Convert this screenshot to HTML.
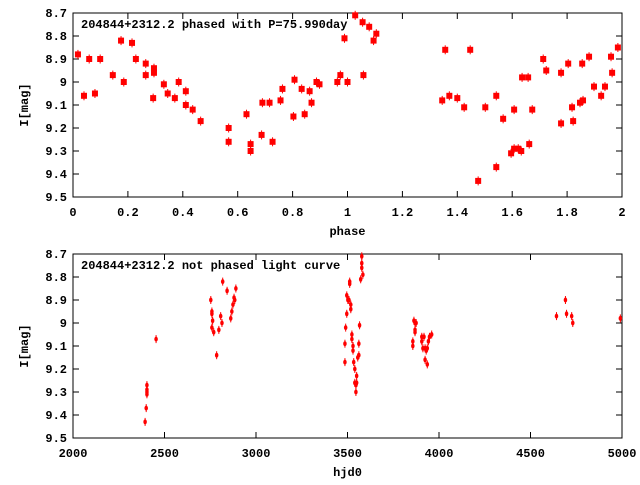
<!DOCTYPE html>
<html><head><meta charset="utf-8"><style>
body{margin:0;background:#fff}
svg text{font-family:"Liberation Mono","DejaVu Sans Mono",monospace;font-weight:bold;font-size:12px;fill:#000}
</style></head><body>
<svg id="c" width="640" height="480" xmlns="http://www.w3.org/2000/svg"></svg>
<script>
const phaseX=[0.018,0.04,0.059,0.08,0.099,0.145,0.175,0.185,0.215,0.229,0.265,0.265,0.295,0.295,0.292,0.331,0.345,0.371,0.385,0.411,0.411,0.436,0.465,0.567,0.567,0.632,0.647,0.647,0.687,0.69,0.716,0.727,0.756,0.763,0.803,0.807,0.833,0.844,0.862,0.869,0.887,0.898,0.963,0.974,0.989,1.0,1.028,1.055,1.058,1.079,1.095,1.105,1.345,1.356,1.371,1.4,1.425,1.447,1.476,1.502,1.542,1.542,1.567,1.596,1.607,1.607,1.622,1.633,1.636,1.658,1.662,1.673,1.713,1.724,1.778,1.778,1.804,1.818,1.822,1.847,1.858,1.855,1.88,1.898,1.924,1.938,1.96,1.964,1.985];
const phaseMag=[8.88,9.06,8.90,9.05,8.90,8.97,8.82,9.00,8.83,8.90,8.92,8.97,8.94,8.96,9.07,9.01,9.05,9.07,9.00,9.04,9.10,9.12,9.17,9.20,9.26,9.14,9.27,9.30,9.23,9.09,9.09,9.26,9.08,9.03,9.15,8.99,9.03,9.14,9.04,9.09,9.00,9.01,9.00,8.97,8.81,9.00,8.71,8.74,8.97,8.76,8.82,8.79,9.08,8.86,9.06,9.07,9.11,8.86,9.43,9.11,9.06,9.37,9.16,9.31,9.12,9.29,9.29,9.30,8.98,8.98,9.27,9.12,8.90,8.95,8.96,9.18,8.92,9.11,9.17,9.09,9.08,8.92,8.89,9.02,9.06,9.02,8.89,8.96,8.85];
const hjd=[2394,2400,2404,2404,2404,2404,2454,2753,2759,2759,2763,2759,2769,2785,2797,2807,2814,2818,2842,2862,2868,2874,2880,2884,2890,3486,3486,3490,3496,3496,3502,3508,3512,3512,3518,3518,3524,3524,3530,3530,3534,3540,3540,3546,3546,3550,3550,3556,3562,3562,3566,3572,3578,3578,3578,3584,3857,3857,3863,3869,3869,3869,3875,3906,3906,3912,3918,3924,3924,3930,3936,3936,3942,3948,3960,4642,4691,4697,4725,4731,4991];
const hjdMag=[9.43,9.37,9.27,9.29,9.31,9.30,9.07,8.90,8.95,8.96,8.99,9.02,9.04,9.14,9.03,8.97,9.00,8.82,8.86,8.98,8.95,8.92,8.89,8.90,8.85,9.17,9.09,9.02,8.96,8.88,8.90,8.90,8.82,8.83,8.92,8.94,9.05,9.07,9.10,9.12,9.17,9.20,9.26,9.27,9.30,9.26,9.23,9.15,9.14,9.09,9.01,8.81,8.71,8.74,8.76,8.79,9.08,9.10,8.99,9.00,9.03,9.04,9.00,9.06,9.08,9.11,9.06,9.11,9.16,9.12,9.11,9.18,9.08,9.06,9.05,8.97,8.90,8.96,8.97,9.00,8.98];
const xTicksTop=["0","0.2","0.4","0.6","0.8","1","1.2","1.4","1.6","1.8","2"];
const xTicksBot=["2000","2500","3000","3500","4000","4500","5000"];
const yTicks=["8.7","8.8","8.9","9","9.1","9.2","9.3","9.4","9.5"];
const NS="http://www.w3.org/2000/svg";
const svg=document.getElementById('c');
function mk(t,a,p){const e=document.createElementNS(NS,t);for(const k in a)e.setAttribute(k,a[k]);(p||svg).appendChild(e);return e;}
function panel(name,L,T,R,B,x0,x1,xt,xs,ys,title,xlabel,mx,my,marker){
  const g=mk('g',{});
  
  
  const sx=v=>L+(v-x0)/(x1-x0)*(R-L);
  const sy=v=>T+(v-8.7)/0.8*(B-T);
  yTicks.forEach(t=>{const y=sy(+t);
    mk('line',{x1:L,x2:L+6,y1:y,y2:y,stroke:'#000'},g);mk('line',{x1:R-6,x2:R,y1:y,y2:y,stroke:'#000'},g);
    const tx=mk('text',{x:L-6,y:y+4,'text-anchor':'end'},g);tx.textContent=t;
    
    });
  xt.forEach(t=>{const x=sx(+t);
    mk('line',{x1:x,x2:x,y1:B,y2:B-6,stroke:'#000'},g);mk('line',{x1:x,x2:x,y1:T,y2:T+6,stroke:'#000'},g);
    const tx=mk('text',{x:x,y:B+19,'text-anchor':'middle'},g);tx.textContent=t;
    
    });
  mk('rect',{x:L,y:T,width:R-L,height:B-T,fill:'none',stroke:'#000','stroke-width':1},g);
  const ti=mk('text',{x:L+8,y:T+15},g);ti.textContent=title;
  
  
  const xl=mk('text',{x:(L+R)/2,y:B+38,'text-anchor':'middle'},g);xl.textContent=xlabel;
  
  
  const yl=mk('text',{x:0,y:0,'text-anchor':'middle',transform:`translate(28,${(T+B)/2}) rotate(-90)`},g);yl.textContent='I[mag]';
  
  
  xs.forEach((v,i)=>{const x=sx(v),y=sy(ys[i]);
    mk('line',{x1:x,x2:x,y1:y-my/2-1.5,y2:y+my/2+1.5,stroke:'#f00'},g);
    const m=marker==='rect'?mk('rect',{x:x-mx/2,y:y-my/2,width:mx,height:my,fill:'#f00'},g):mk('ellipse',{cx:x,cy:y,rx:mx/2,ry:my/2,fill:'#f00'},g);
    
    });
}
panel('phased-plot',73,13,622,197,0,2,xTicksTop,phaseX,phaseMag,'204844+2312.2 phased with P=75.990day','phase',6,6,'rect');
panel('light-curve-plot',73,254,622,438,2000,5000,xTicksBot,hjd,hjdMag,'204844+2312.2 not phased light curve','hjd0',3.5,5,'ellipse');
</script>
</body></html>
